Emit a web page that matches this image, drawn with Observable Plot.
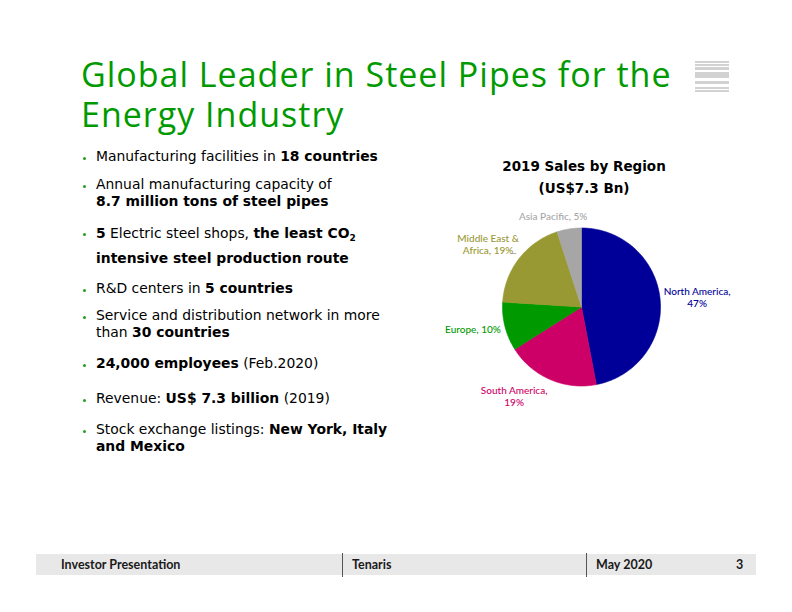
<!DOCTYPE html>
<html><head><meta charset="utf-8">
<script src="https://cdn.jsdelivr.net/npm/d3@7"></script>
<script src="https://cdn.jsdelivr.net/npm/@observablehq/plot@0.6"></script>
<style>
html,body{margin:0;padding:0;}
body{width:792px;height:612px;position:relative;background:#fff;overflow:hidden;font-family:"DejaVu Sans",Verdana,sans-serif;color:#000;}
.title{position:absolute;left:81px;font-family:"Open Sans","Noto Sans",sans-serif;font-size:34px;line-height:34px;letter-spacing:1px;color:#009A00;white-space:nowrap;}
.logo{position:absolute;left:695px;top:60px;width:34px;}
.logo div{background:#D2D2D2;position:absolute;left:0;width:34px;}
.bullet{position:absolute;left:96px;font-size:13.9px;line-height:17px;white-space:nowrap;}
.bullet::before{content:"";position:absolute;left:-13px;top:9px;width:3px;height:3px;border-radius:50%;background:#22A022;}
.bullet.tall::before{top:12px;}
.bullet b{font-weight:bold;}
.pietitle{position:absolute;left:470px;top:155px;width:228px;text-align:center;font-weight:bold;font-size:13.5px;line-height:22px;}
#chart{position:absolute;left:430px;top:195px;}
.footer{position:absolute;left:36px;top:554px;width:720px;height:21px;background:#E8E8E8;}
.ft{position:absolute;top:554px;line-height:21px;font-family:"Lato","Open Sans",sans-serif;font-weight:bold;font-size:12.5px;color:#1a1a1a;}
.div{position:absolute;top:553px;width:1px;height:24px;background:#555;}
</style></head><body>
<div class="title" style="top:57px">Global Leader in Steel Pipes for the</div>
<div class="title" style="top:97px">Energy Industry</div>
<div class="logo">
  <div style="top:1px;height:2px"></div>
  <div style="top:4px;height:2px"></div>
  <div style="top:7px;height:3px"></div>
  <div style="top:12px;height:6px"></div>
  <div style="top:21px;height:3px"></div>
  <div style="top:27px;height:2px"></div>
  <div style="top:30px;height:2px"></div>
</div>

<div class="bullet" style="top:148px">Manufacturing facilities in <b>18 countries</b></div>
<div class="bullet" style="top:176px">Annual manufacturing capacity of<br><b>8.7 million tons of steel pipes</b></div>
<div class="bullet tall" style="top:221px;line-height:25px">
<b>5</b> Electric steel shops, <b>the least CO<sub style="font-size:9px;vertical-align:-3px;line-height:0">2</sub></b><br><b>intensive steel production route</b></div>
<div class="bullet" style="top:280px">R&amp;D centers in <b>5 countries</b></div>
<div class="bullet" style="top:307px">Service and distribution network in more<br>than <b>30 countries</b></div>
<div class="bullet" style="top:355px"><b>24,000 employees</b> (Feb.2020)</div>
<div class="bullet" style="top:390px">Revenue: <b>US$ 7.3 billion</b> (2019)</div>
<div class="bullet" style="top:421px">Stock exchange listings: <b>New York, Italy</b><br><b>and Mexico</b></div>

<div class="pietitle">2019 Sales by Region<br>(US$7.3 Bn)</div>
<div id="chart"></div>

<div class="footer"></div>
<div class="div" style="left:342px"></div>
<div class="div" style="left:586px"></div>
<div class="ft" style="left:61px">Investor Presentation</div>
<div class="ft" style="left:352px">Tenaris</div>
<div class="ft" style="left:596px">May 2020</div>
<div class="ft" style="left:736px">3</div>

<script>
// ---- data ----
const regions = ["North America", "South America", "Europe", "Middle East & Africa", "Asia Pacific"];
const shares = [47, 19, 10, 19, 5];
const colors = ["#000099", "#CC0066", "#009900", "#999933", "#A6A6A6"];
const labelTexts = ["North America,\n47%", "South America,\n19%", "Europe, 10%", "Middle East &\nAfrica, 19%", "Asia Pacific, 5%"];

// ---- layout (pixels) ----
const cx = 151, cy = 111.5, r = 79;
const labelOffsets = [[37, -2], [-36, 17], [-32, 3], [-31, -14], [-16, -12.5]];

const arcs = d3.pie().sort(null).startAngle(0).endAngle(2 * Math.PI)(shares);
const slices = arcs.map((a, i) => {
  const pts = [{x: 0, y: 0}];
  const n = Math.max(4, Math.ceil((a.endAngle - a.startAngle) / (Math.PI / 180)));
  for (let k = 0; k <= n; k++) {
    const t = a.startAngle + (a.endAngle - a.startAngle) * k / n;
    pts.push({x: Math.sin(t), y: -Math.cos(t)});
  }
  pts.push({x: 0, y: 0});
  return pts;
});
const mids = arcs.map((a, i) => {
  const m = (a.startAngle + a.endAngle) / 2;
  return {x: Math.sin(m), y: -Math.cos(m), label: labelTexts[i], region: regions[i]};
});

const marks = [];
slices.forEach((pts, i) => {
  marks.push(Plot.line(pts, {x: "x", y: "y", fill: colors[i], stroke: colors[i], strokeWidth: 0.6}));
});
mids.forEach((d, i) => {
  marks.push(Plot.text([d], {
    x: "x", y: "y", text: "label", dx: labelOffsets[i][0], dy: labelOffsets[i][1],
    fill: colors[i], fontFamily: "Lato, 'Open Sans', sans-serif", fontSize: 10, fontWeight: 500, lineHeight: 1.2,
    textAnchor: "middle", lineAnchor: "middle"
  }));
});
// leader line for Middle East & Africa
marks.push(Plot.ruleY([mids[3]], {y: "y", x1: d => d.x - 0.1, x2: d => d.x - 0.03, dy: -5, stroke: "#999", strokeWidth: 0.8}));

const chart = Plot.plot({
  width: 320, height: 230,
  x: {domain: [-1, 1], range: [cx - r, cx + r], axis: null},
  y: {domain: [-1, 1], range: [cy - r, cy + r], axis: null},
  style: {background: "transparent", overflow: "visible"},
  marks
});
document.getElementById("chart").appendChild(chart);
</script>
</body></html>
